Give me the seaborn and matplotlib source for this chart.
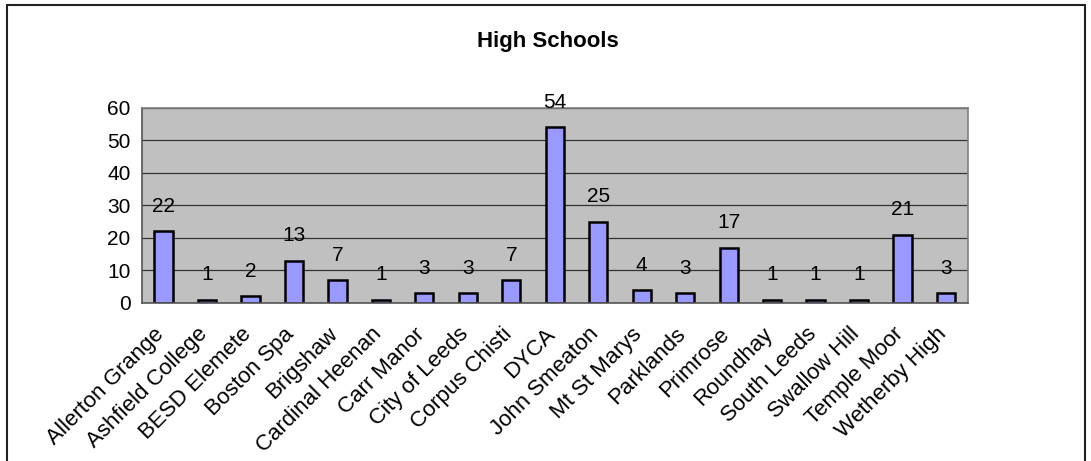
import matplotlib
matplotlib.use('Agg')

import matplotlib.pyplot as plt
import pandas as pd
import seaborn as sns
from matplotlib.patches import Rectangle
from matplotlib.transforms import ScaledTranslation

schools = ['Allerton Grange', 'Ashfield College', 'BESD Elemete', 'Boston Spa', 'Brigshaw',
           'Cardinal Heenan', 'Carr Manor', 'City of Leeds', 'Corpus Chisti', 'DYCA',
           'John Smeaton', 'Mt St Marys', 'Parklands', 'Primrose', 'Roundhay',
           'South Leeds', 'Swallow Hill', 'Temple Moor', 'Wetherby High']
counts = [22, 1, 2, 13, 7, 1, 3, 3, 7, 54, 25, 4, 3, 17, 1, 1, 1, 21, 3]

df = pd.DataFrame({'school': schools, 'count': counts})

sns.set_style('white')
plt.rcParams['font.family'] = ['Liberation Sans', 'DejaVu Sans']
plt.rcParams['text.color'] = 'black'
plt.rcParams['xtick.labelcolor'] = 'black'
plt.rcParams['ytick.labelcolor'] = 'black'

fs = 15

fig = plt.figure(figsize=(10.91, 4.61), dpi=100)
ax = fig.add_axes([0.130, 0.343, 0.757, 0.423])

sns.barplot(data=df, x='school', y='count', color='#9999FF', edgecolor='black',
            linewidth=1.8, width=0.42, saturation=1, ax=ax)

ax.set_facecolor('#C0C0C0')
ax.set_ylim(0, 60)
ax.set_yticks(range(0, 61, 10))
ax.set_xlim(-0.5, len(schools) - 0.5)
ax.yaxis.grid(True, color='#333333', linewidth=0.9)
ax.set_axisbelow(True)
ax.set_xlabel('')
ax.set_ylabel('')

for side in ['top', 'right']:
    ax.spines[side].set_color('#808080')
    ax.spines[side].set_linewidth(1.2)
for side in ['left', 'bottom']:
    ax.spines[side].set_color('#555555')
    ax.spines[side].set_linewidth(1.2)

# category separators as ticks, like excel
ax.set_xticks([i - 0.5 for i in range(len(schools) + 1)], minor=True)
ax.tick_params(axis='x', which='minor', direction='out', length=5, width=1, color='#555555')
ax.tick_params(axis='x', which='major', length=0, labelsize=16, pad=15)
ax.tick_params(axis='y', direction='out', length=5, width=1, color='#555555', labelsize=fs, pad=3)
ax.set_xticks(range(len(schools)))
ax.set_xticklabels(schools, rotation=45, ha='right', rotation_mode='anchor')
shift = ScaledTranslation(-10 / 100, 0, fig.dpi_scale_trans)
for lbl in ax.get_xticklabels():
    lbl.set_transform(lbl.get_transform() + shift)

ax.bar_label(ax.containers[0], labels=[str(c) for c in counts], padding=11, fontsize=fs)

fig.text(0.502, 0.91, 'High Schools', ha='center', va='center', fontsize=16, fontweight='bold')

fig.patches.append(Rectangle((7 / 1091, -0.1), 1078 / 1091, 1.1 - 5 / 461, transform=fig.transFigure,
                             fill=False, edgecolor='#222222', linewidth=1.5))

fig.savefig('out.png', dpi=100)
